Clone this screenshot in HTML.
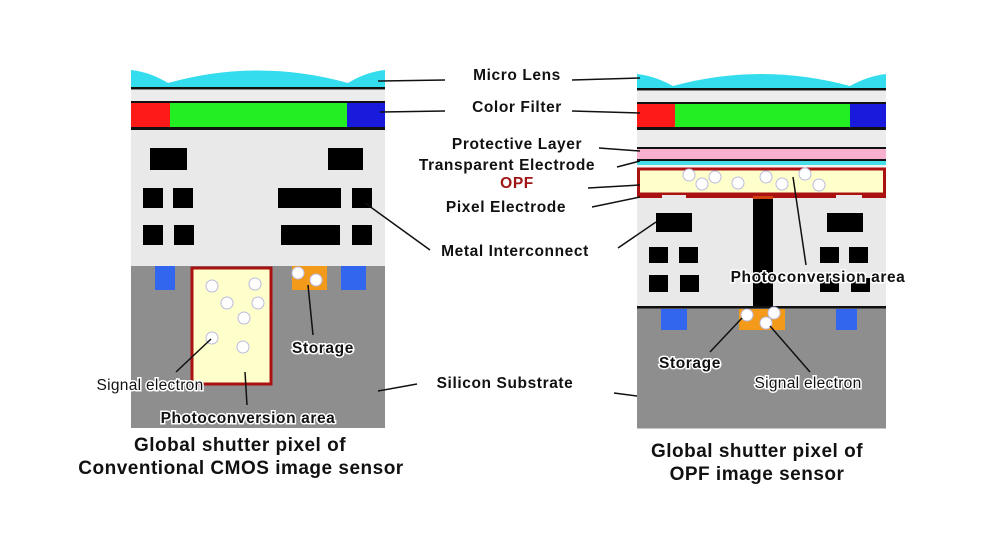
<!DOCTYPE html>
<html><head><style>
html,body{margin:0;padding:0;background:#fff;}
svg{display:block;}
text{font-family:"Liberation Sans",sans-serif;}
.b{font-weight:bold;}
</style></head><body>
<svg width="988" height="553" viewBox="0 0 988 553" xmlns="http://www.w3.org/2000/svg">
<rect width="988" height="553" fill="#fff"/>
<!-- LEFT PIXEL -->
<path d="M131,70 Q150,72 168,83 Q258,58 348,83 Q366,72 385,70 L385,87 L131,87 Z" fill="#33dded"/>
<rect x="131" y="87" width="254" height="2.5" fill="#111"/>
<rect x="131" y="90" width="254" height="11" fill="#ececec"/>
<rect x="131" y="101" width="254" height="29" fill="#111"/>
<rect x="131" y="103" width="39" height="24" fill="#ff1a1a"/>
<rect x="170" y="103" width="177" height="24" fill="#22ee22"/>
<rect x="347" y="103" width="38" height="24" fill="#1a1add"/>
<rect x="131" y="130" width="254" height="136" fill="#e9e9e9"/>
<g fill="#000">
<rect x="150" y="148" width="37" height="22"/><rect x="328" y="148" width="35" height="22"/>
<rect x="143" y="188" width="20" height="20"/><rect x="173" y="188" width="20" height="20"/>
<rect x="278" y="188" width="63" height="20"/><rect x="352" y="188" width="20" height="20"/>
<rect x="143" y="225" width="20" height="20"/><rect x="174" y="225" width="20" height="20"/>
<rect x="281" y="225" width="59" height="20"/><rect x="352" y="225" width="20" height="20"/>
</g>
<rect x="131" y="266" width="254" height="162" fill="#8e8e8e"/>
<rect x="155" y="266" width="20" height="24" fill="#3366ee"/>
<rect x="341" y="266" width="25" height="24" fill="#3366ee"/>
<rect x="192" y="268" width="79" height="116" fill="#ffffcc" stroke="#aa1111" stroke-width="3"/>
<rect x="292" y="266" width="35" height="24" fill="#f39a1a"/>
<g fill="#fff" stroke="#bbd" stroke-width="1">
<circle cx="212" cy="286" r="6"/><circle cx="255" cy="284" r="6"/><circle cx="227" cy="303" r="6"/>
<circle cx="258" cy="303" r="6"/><circle cx="244" cy="318" r="6"/><circle cx="212" cy="338" r="6"/>
<circle cx="243" cy="347" r="6"/><circle cx="298" cy="273" r="6"/><circle cx="316" cy="280" r="6"/>
</g>
<!-- RIGHT PIXEL -->
<path d="M637,74 Q655,76 673,86 Q761,62 850,86 Q868,76 886,74 L886,88 L637,88 Z" fill="#33dded"/>
<rect x="637" y="88" width="249" height="2.5" fill="#111"/>
<rect x="637" y="91" width="249" height="11" fill="#ececec"/>
<rect x="637" y="102" width="249" height="28" fill="#111"/>
<rect x="637" y="104" width="38" height="23" fill="#ff1a1a"/>
<rect x="675" y="104" width="175" height="23" fill="#22ee22"/>
<rect x="850" y="104" width="36" height="23" fill="#1a1add"/>
<rect x="637" y="130" width="249" height="17" fill="#ececec"/>
<rect x="637" y="147" width="249" height="2" fill="#111"/>
<rect x="637" y="149" width="249" height="10" fill="#f8b0d0"/>
<rect x="637" y="159" width="249" height="2" fill="#111"/>
<rect x="637" y="161" width="249" height="4" fill="#44dde8"/>
<rect x="637" y="165" width="249" height="3" fill="#f4f4f4"/>
<rect x="638.5" y="169" width="246" height="25" fill="#ffffcc" stroke="#aa1111" stroke-width="3"/>
<rect x="637" y="195" width="249" height="113" fill="#e9e9e9"/>
<g fill="#aa1111">
<rect x="637" y="194" width="25" height="4"/><rect x="686" y="194" width="150" height="4"/><rect x="862" y="194" width="24" height="4"/>
</g>
<rect x="753" y="196" width="20" height="114" fill="#000"/>
<rect x="753" y="196" width="20" height="3" fill="#d04010"/>
<g fill="#000">
<rect x="656" y="213" width="36" height="19"/><rect x="827" y="213" width="36" height="19"/>
<rect x="649" y="247" width="19" height="16"/><rect x="679" y="247" width="19" height="16"/>
<rect x="820" y="247" width="19" height="16"/><rect x="849" y="247" width="19" height="16"/>
<rect x="649" y="275" width="19" height="17"/><rect x="680" y="275" width="19" height="17"/>
<rect x="820" y="278" width="19" height="14"/><rect x="851" y="278" width="19" height="14"/>
</g>
<rect x="637" y="306" width="249" height="2.5" fill="#111"/>
<rect x="637" y="308.5" width="249" height="120" fill="#8e8e8e"/>
<rect x="661" y="309" width="26" height="21" fill="#3366ee"/>
<rect x="836" y="309" width="21" height="21" fill="#3366ee"/>
<rect x="739" y="309" width="46" height="21" fill="#f39a1a"/>
<g fill="#fff" stroke="#bbd" stroke-width="1">
<circle cx="689" cy="175" r="6"/><circle cx="715" cy="177" r="6"/><circle cx="702" cy="184" r="6"/>
<circle cx="738" cy="183" r="6"/><circle cx="766" cy="177" r="6"/><circle cx="782" cy="184" r="6"/>
<circle cx="805" cy="174" r="6"/><circle cx="819" cy="185" r="6"/>
<circle cx="747" cy="315" r="6"/><circle cx="774" cy="313" r="6"/><circle cx="766" cy="323" r="6"/>
</g>
<!-- leader lines -->
<g stroke="#111" stroke-width="1.5" fill="none">
<line x1="378" y1="81" x2="445" y2="80"/><line x1="572" y1="80" x2="640" y2="78"/>
<line x1="380" y1="112" x2="445" y2="111"/><line x1="572" y1="111" x2="640" y2="113"/>
<line x1="599" y1="148" x2="640" y2="151"/>
<line x1="617" y1="167" x2="640" y2="161"/>
<line x1="588" y1="188" x2="640" y2="185"/>
<line x1="592" y1="207" x2="640" y2="197"/>
<line x1="365" y1="203" x2="430" y2="250"/>
<line x1="618" y1="248" x2="656" y2="222"/>
<line x1="793" y1="177" x2="806" y2="265"/>
<line x1="308" y1="285" x2="313" y2="335"/>
<line x1="211" y1="339" x2="176" y2="372"/>
<line x1="245" y1="372" x2="247" y2="405"/>
<line x1="378" y1="391" x2="417" y2="384"/>
<line x1="614" y1="393" x2="637" y2="396"/>
<line x1="742" y1="318" x2="710" y2="352"/>
<line x1="770" y1="326" x2="810" y2="372"/>
</g>
<!-- labels -->
<g font-size="15.5" letter-spacing="0.6" fill="#111" text-anchor="middle" stroke="#fff" stroke-width="3" paint-order="stroke" class="b">
<text x="517" y="80">Micro Lens</text>
<text x="517" y="112">Color Filter</text>
<text x="517" y="149">Protective Layer</text>
<text x="507" y="170">Transparent Electrode</text>
<text x="517" y="188" fill="#a01515">OPF</text>
<text x="506" y="212">Pixel Electrode</text>
<text x="515" y="256">Metal Interconnect</text>
<text x="818" y="282">Photoconversion area</text>
<text x="323" y="353">Storage</text>
<text x="248" y="423">Photoconversion area</text>
<text x="505" y="388">Silicon Substrate</text>
<text x="690" y="368">Storage</text>
</g>
<g font-size="15.5" letter-spacing="0.3" fill="#111" text-anchor="middle" stroke="#fff" stroke-width="3" paint-order="stroke">
<text x="150" y="390">Signal electron</text>
<text x="808" y="388">Signal electron</text>
</g>
<g font-size="19" letter-spacing="0.5" fill="#111" text-anchor="middle" class="b">
<text x="240" y="451">Global shutter pixel of</text>
<text x="241" y="474">Conventional CMOS image sensor</text>
<text x="757" y="457">Global shutter pixel of</text>
<text x="757" y="480">OPF image sensor</text>
</g>
</svg>
</body></html>
